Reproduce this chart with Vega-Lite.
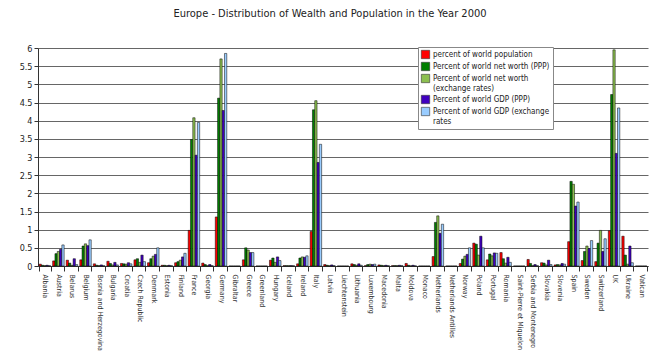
{
  "$schema": "https://vega.github.io/schema/vega-lite/v6.json",
  "width": 610,
  "height": 218,
  "autosize": {"type": "none"},
  "padding": {"left": 38, "top": 48, "right": 12, "bottom": 91},
  "background": "white",
  "title": {"text": "Europe - Distribution of Wealth and Population in the Year 2000", "fontSize": 11, "fontWeight": "normal", "font": "DejaVu Sans Condensed", "color": "#222", "offset": 25, "dx": -13},
  "data": {"values": [
    {"c": "Albania", "p": 0.05, "nw": 0.02, "nwx": 0.01, "gdp": 0.02, "gdpx": 0.01},
    {"c": "Austria", "p": 0.14, "nw": 0.34, "nwx": 0.4, "gdp": 0.46, "gdpx": 0.58},
    {"c": "Belarus", "p": 0.16, "nw": 0.08, "nwx": 0.02, "gdp": 0.2, "gdpx": 0.04},
    {"c": "Belgium", "p": 0.17, "nw": 0.55, "nwx": 0.61, "gdp": 0.56, "gdpx": 0.72},
    {"c": "Bosnia and Herzegovina", "p": 0.06, "nw": 0.02, "nwx": 0.01, "gdp": 0.03, "gdpx": 0.01},
    {"c": "Bulgaria", "p": 0.13, "nw": 0.07, "nwx": 0.03, "gdp": 0.1, "gdpx": 0.03},
    {"c": "Croatia", "p": 0.07, "nw": 0.06, "nwx": 0.05, "gdp": 0.09, "gdpx": 0.06},
    {"c": "Czech Republic", "p": 0.17, "nw": 0.2, "nwx": 0.1, "gdp": 0.3, "gdpx": 0.12},
    {"c": "Denmark", "p": 0.09, "nw": 0.2, "nwx": 0.27, "gdp": 0.32, "gdpx": 0.5},
    {"c": "Estonia", "p": 0.02, "nw": 0.02, "nwx": 0.01, "gdp": 0.02, "gdpx": 0.01},
    {"c": "Finland", "p": 0.09, "nw": 0.12, "nwx": 0.16, "gdp": 0.25, "gdpx": 0.35},
    {"c": "France", "p": 0.98, "nw": 3.48, "nwx": 4.08, "gdp": 3.05, "gdpx": 3.95},
    {"c": "Georgia", "p": 0.08, "nw": 0.04, "nwx": 0.01, "gdp": 0.04, "gdpx": 0.01},
    {"c": "Germany", "p": 1.35, "nw": 4.62, "nwx": 5.7, "gdp": 4.28, "gdpx": 5.85},
    {"c": "Gibraltar", "p": 0, "nw": 0, "nwx": 0, "gdp": 0, "gdpx": 0},
    {"c": "Greece", "p": 0.17, "nw": 0.5, "nwx": 0.44, "gdp": 0.37, "gdpx": 0.37},
    {"c": "Greenland", "p": 0, "nw": 0, "nwx": 0, "gdp": 0, "gdpx": 0},
    {"c": "Hungary", "p": 0.16, "nw": 0.22, "nwx": 0.1, "gdp": 0.25, "gdpx": 0.15},
    {"c": "Iceland", "p": 0.01, "nw": 0.01, "nwx": 0.01, "gdp": 0.01, "gdpx": 0.01},
    {"c": "Ireland", "p": 0.06, "nw": 0.22, "nwx": 0.25, "gdp": 0.24, "gdpx": 0.28},
    {"c": "Italy", "p": 0.95, "nw": 4.3, "nwx": 4.55, "gdp": 2.85, "gdpx": 3.35},
    {"c": "Latvia", "p": 0.04, "nw": 0.02, "nwx": 0.01, "gdp": 0.03, "gdpx": 0.01},
    {"c": "Liechtenstein", "p": 0, "nw": 0, "nwx": 0, "gdp": 0, "gdpx": 0},
    {"c": "Lithuania", "p": 0.06, "nw": 0.04, "nwx": 0.02, "gdp": 0.06, "gdpx": 0.02},
    {"c": "Luxembourg", "p": 0.01, "nw": 0.04, "nwx": 0.05, "gdp": 0.04, "gdpx": 0.05},
    {"c": "Macedonia", "p": 0.03, "nw": 0.02, "nwx": 0.01, "gdp": 0.02, "gdpx": 0.01},
    {"c": "Malta", "p": 0.01, "nw": 0.01, "nwx": 0.01, "gdp": 0.02, "gdpx": 0.01},
    {"c": "Moldova", "p": 0.07, "nw": 0.02, "nwx": 0.005, "gdp": 0.02, "gdpx": 0.005},
    {"c": "Monaco", "p": 0, "nw": 0, "nwx": 0, "gdp": 0, "gdpx": 0},
    {"c": "Netherlands", "p": 0.26, "nw": 1.2, "nwx": 1.38, "gdp": 0.9, "gdpx": 1.15},
    {"c": "Netherlands Antilles", "p": 0, "nw": 0, "nwx": 0, "gdp": 0, "gdpx": 0},
    {"c": "Norway", "p": 0.07, "nw": 0.19, "nwx": 0.27, "gdp": 0.32, "gdpx": 0.5},
    {"c": "Poland", "p": 0.63, "nw": 0.6, "nwx": 0.3, "gdp": 0.82, "gdpx": 0.5},
    {"c": "Portugal", "p": 0.17, "nw": 0.33, "nwx": 0.28, "gdp": 0.36, "gdpx": 0.35},
    {"c": "Romania", "p": 0.37, "nw": 0.2, "nwx": 0.08, "gdp": 0.24, "gdpx": 0.1},
    {"c": "Saint-Pierre et Miquelon", "p": 0, "nw": 0, "nwx": 0, "gdp": 0, "gdpx": 0},
    {"c": "Serbia and Montenegro", "p": 0.18, "nw": 0.07, "nwx": 0.01, "gdp": 0.04, "gdpx": 0.01},
    {"c": "Slovakia", "p": 0.09, "nw": 0.08, "nwx": 0.03, "gdp": 0.16, "gdpx": 0.04},
    {"c": "Slovenia", "p": 0.03, "nw": 0.04, "nwx": 0.03, "gdp": 0.07, "gdpx": 0.05},
    {"c": "Spain", "p": 0.67, "nw": 2.33, "nwx": 2.25, "gdp": 1.65, "gdpx": 1.76},
    {"c": "Sweden", "p": 0.15, "nw": 0.4, "nwx": 0.55, "gdp": 0.48, "gdpx": 0.7},
    {"c": "Switzerland", "p": 0.12, "nw": 0.63, "nwx": 0.98, "gdp": 0.4, "gdpx": 0.75},
    {"c": "UK", "p": 0.97, "nw": 4.72, "nwx": 5.95, "gdp": 3.1, "gdpx": 4.35},
    {"c": "Ukraine", "p": 0.82, "nw": 0.3, "nwx": 0.05, "gdp": 0.55, "gdpx": 0.09},
    {"c": "Vatican", "p": 0, "nw": 0, "nwx": 0, "gdp": 0, "gdpx": 0}
  ]},
  "transform": [{"fold": ["p", "nw", "nwx", "gdp", "gdpx"], "as": ["series", "value"]}],
  "mark": {"type": "bar", "stroke": "black", "strokeWidth": 0.5},
  "encoding": {
    "x": {"field": "c", "type": "nominal", "sort": null, "title": null,
      "scale": {"paddingInner": 0.15, "paddingOuter": 0.08},
      "axis": {"labelAngle": 90, "labelAlign": "left", "labelBaseline": "middle", "labelFontSize": 7, "labelFont": "DejaVu Sans Condensed", "labelColor": "#333", "tickBand": "extent", "tickColor": "#333", "tickSize": 5, "domainColor": "#333", "labelPadding": 3, "labelLimit": 200}},
    "xOffset": {"field": "series", "type": "nominal", "scale": {"domain": ["p", "nw", "nwx", "gdp", "gdpx"], "paddingInner": 0}},
    "y": {"field": "value", "type": "quantitative", "title": null,
      "scale": {"domain": [0, 6], "nice": false},
      "axis": {"values": [0, 0.5, 1, 1.5, 2, 2.5, 3, 3.5, 4, 4.5, 5, 5.5, 6], "format": "~g", "labelFontSize": 9, "labelFont": "DejaVu Sans Condensed", "labelColor": "#222", "gridColor": "#666", "gridOpacity": 1, "domainColor": "#333", "tickColor": "#333", "tickSize": 4}},
    "color": {"field": "series", "type": "nominal",
      "scale": {"domain": ["p", "nw", "nwx", "gdp", "gdpx"], "range": ["#ff0000", "#007f00", "#8cbf50", "#4000bf", "#99ccff"]},
      "legend": {"title": null, "orient": "none", "legendX": 380, "legendY": -1, "fillColor": "white", "strokeColor": "#888", "padding": 3, "symbolType": "square", "symbolSize": 70, "symbolStrokeColor": "#333", "symbolStrokeWidth": 0.6, "labelFontSize": 8, "labelFont": "DejaVu Sans Condensed", "labelColor": "#222", "rowPadding": 1, "labelLimit": 200, "labelOffset": 3,
        "labelExpr": "datum.value == 'p' ? 'percent of world population' : datum.value == 'nw' ? 'Percent of world net worth (PPP)' : datum.value == 'nwx' ? ['Percent of world net worth', '(exchange rates)'] : datum.value == 'gdp' ? 'Percent of world GDP (PPP)' : ['Percent of world GDP (exchange', 'rates']"}}
  },
  "config": {"view": {"stroke": null}}
}
